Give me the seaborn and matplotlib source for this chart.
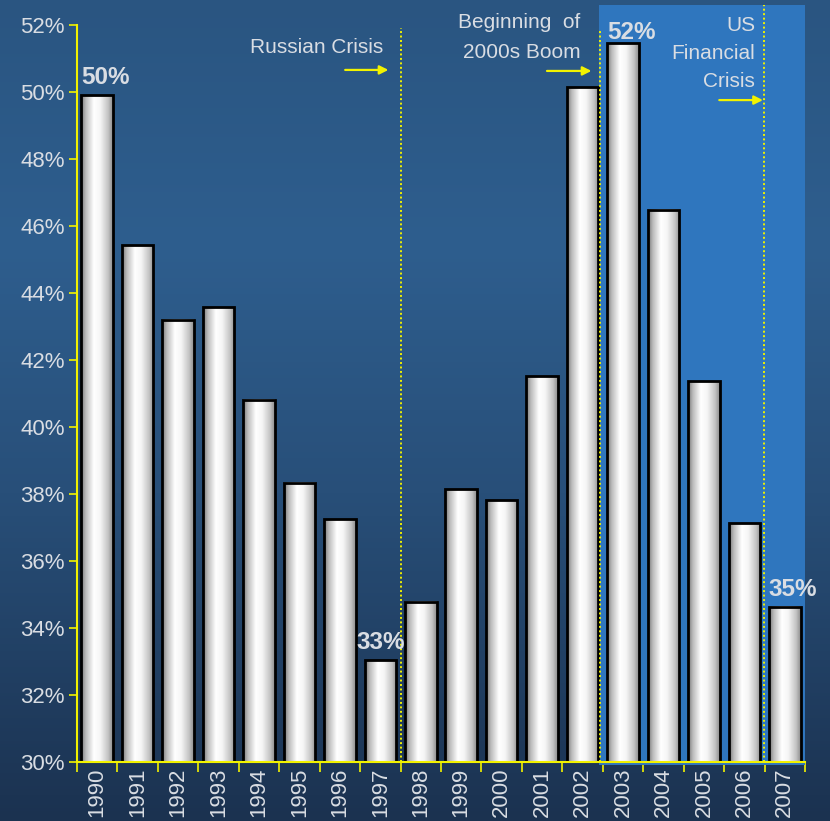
import numpy as np
import pandas as pd
import matplotlib
matplotlib.use("Agg")
import matplotlib.pyplot as plt
from matplotlib.colors import LinearSegmentedColormap
import seaborn as sns

years = ["1990", "1991", "1992", "1993", "1994", "1995", "1996", "1997", "1998",
         "1999", "2000", "2001", "2002", "2003", "2004", "2005", "2006", "2007"]
values = [49.9, 45.43, 43.2, 43.58, 40.81, 38.33, 37.25, 33.04, 34.78,
          38.15, 37.82, 41.52, 50.15, 51.46, 46.48, 41.37, 37.13, 34.63]
value_labels = {"1990": "50%", "1997": "33%", "2003": "52%", "2007": "35%"}
yticks = [30, 32, 34, 36, 38, 40, 42, 44, 46, 48, 50, 52]

sns.set_theme(style="white")
plt.rcParams["font.family"] = ["Liberation Sans", "DejaVu Sans"]

TXT = "#D9DDE3"
YEL = "#F2F200"
FS = 15

fig = plt.figure(figsize=(8.3, 8.21), dpi=100)

# background gradient
bg = fig.add_axes([0, 0, 1, 1], zorder=-10)
bg_cmap = LinearSegmentedColormap.from_list(
    "bg", [(0.0, "#2A5581"), (0.3, "#2E5E8E"), (0.6, "#284F79"), (1.0, "#1B3250")])
bg.imshow(np.linspace(0, 1, 256)[:, None], aspect="auto", cmap=bg_cmap,
          extent=[0, 1, 0, 1])
bg.set_axis_off()

ax = fig.add_axes([0.0928, 0.0719, 0.8771, 0.8976])
ax.patch.set_alpha(0)

df = pd.DataFrame({"year": years, "value": values})
sns.barplot(data=df, x="year", y="value", ax=ax, width=0.78,
            color="white", edgecolor="black", linewidth=2, zorder=3)

YMIN, YMAX = 30, 52
ax.set_ylim(YMIN, YMAX)
ax.set_xlim(-0.5, len(years) - 0.5)

# highlight region
ax.add_patch(plt.Rectangle((12.4, 29.9), 17.5 - 12.4, 52.6 - 29.9,
                           facecolor="#2F76BE", edgecolor="none", zorder=1,
                           clip_on=False))

# gradient fill for bars
bar_cmap = LinearSegmentedColormap.from_list(
    "bar", [(0.0, "#777777"), (0.15, "#BBBBBB"), (0.4, "#FFFFFF"),
            (0.6, "#F6F6F6"), (0.85, "#C4C4C4"), (1.0, "#8C8C8C")])
grad = np.linspace(0, 1, 128)[None, :]
bars = [p for p in ax.patches if isinstance(p, matplotlib.patches.Rectangle)
        and p.get_facecolor()[:3] == (1.0, 1.0, 1.0)]
for p in bars:
    x0, w = p.get_x(), p.get_width()
    top = p.get_y() + p.get_height()
    im = ax.imshow(grad, aspect="auto", cmap=bar_cmap,
                   extent=[x0, x0 + w, YMIN, top], zorder=3.5)
    p.set_facecolor("none")
    p.set_zorder(4)
ax.set_xlim(-0.5, len(years) - 0.5)
ax.set_ylim(YMIN, YMAX)

# value labels
for i, yr in enumerate(years):
    if yr in value_labels:
        dx = 0.0 if yr == "1997" else 0.2
        dy = 0.33 if yr == "2003" else 0.52
        ax.text(i + dx, values[i] + dy, value_labels[yr], color=TXT,
                fontsize=17.5, fontweight="bold", ha="center", va="center",
                zorder=6, clip_on=False)

# event lines
dots = (0, (1, 1.3))
ax.plot([7.5, 7.5], [30, 51.9], color=YEL, lw=1.4, ls=dots, zorder=5, clip_on=False)
ax.plot([12.43, 12.43], [30, 51.85], color=YEL, lw=1.4, ls=dots, zorder=5, clip_on=False)
ax.plot([16.49, 16.49], [30, 52.6], color=YEL, lw=1.4, ls=dots, zorder=5, clip_on=False)

# annotations
arrow = dict(arrowstyle="-|>", color=YEL, lw=1.6, mutation_scale=13,
             shrinkA=0, shrinkB=0)
ax.text(7.07, 51.34, "Russian Crisis", color=TXT, fontsize=FS, ha="right",
        va="center", zorder=6)
ax.annotate("", xy=(7.2, 50.66), xytext=(6.13, 50.66), arrowprops=arrow, zorder=6)
ax.text(11.94, 52.08, "Beginning  of", color=TXT, fontsize=FS, ha="right",
        va="center", zorder=6, clip_on=False)
ax.text(11.94, 51.19, "2000s Boom", color=TXT, fontsize=FS, ha="right",
        va="center", zorder=6)
ax.annotate("", xy=(12.22, 50.63), xytext=(11.12, 50.63), arrowprops=arrow, zorder=6)
ax.text(16.27, 52.0, "US", color=TXT, fontsize=FS, ha="right", va="center",
        zorder=6, clip_on=False)
ax.text(16.27, 51.15, "Financial", color=TXT, fontsize=FS, ha="right",
        va="center", zorder=6)
ax.text(16.27, 50.3, "Crisis", color=TXT, fontsize=FS, ha="right",
        va="center", zorder=6)
ax.annotate("", xy=(16.46, 49.76), xytext=(15.38, 49.76), arrowprops=arrow, zorder=6)

# axes styling
ax.set_xlabel("")
ax.set_ylabel("")
ax.set_yticks(yticks)
ax.set_yticklabels([f"{t}%" for t in yticks])
ax.set_xticks(range(len(years)))
ax.set_xticklabels(years, rotation=90)
ax.tick_params(axis="y", colors=YEL, labelcolor=TXT, labelsize=16, length=6,
               width=1.2, direction="out", left=True, pad=3)
ax.tick_params(axis="x", colors=YEL, labelcolor=TXT, labelsize=16, length=0,
               pad=4)
ax.set_xticks(np.arange(-0.5, len(years) + 0.5, 1), minor=True)
ax.tick_params(axis="x", which="minor", bottom=True, length=7, width=1.2,
               color=YEL, direction="out")
for s in ["top", "right"]:
    ax.spines[s].set_visible(False)
for s in ["left", "bottom"]:
    ax.spines[s].set_visible(True)
    ax.spines[s].set_color(YEL)
    ax.spines[s].set_linewidth(1.5)
    ax.spines[s].set_zorder(7)
ax.grid(False)

fig.savefig("out.png", dpi=100)
